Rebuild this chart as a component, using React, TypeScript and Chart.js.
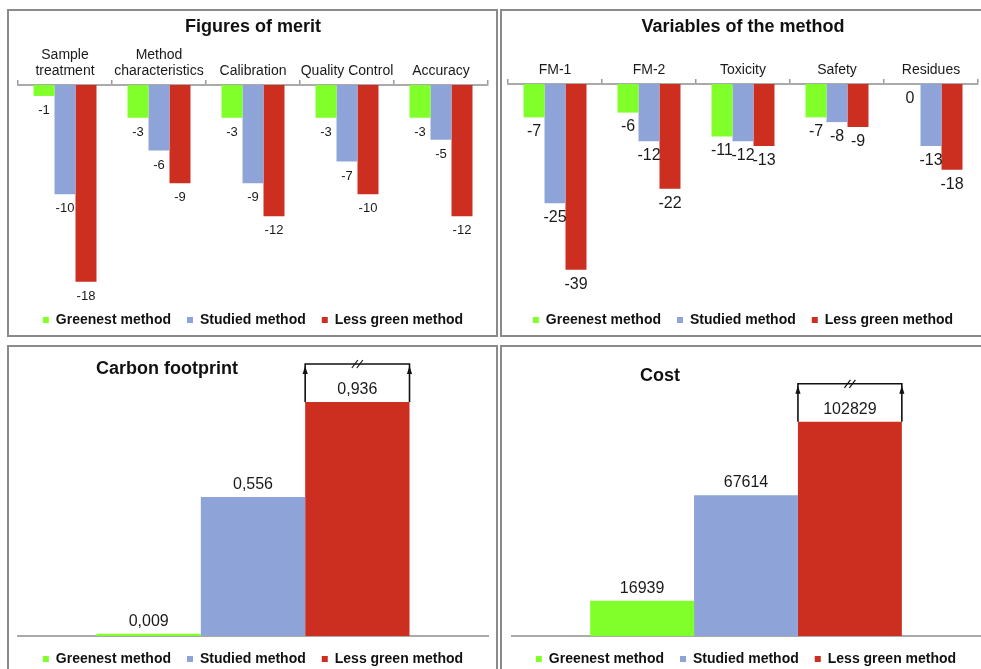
import React, { useEffect, useRef } from 'react';
import { Chart, registerables } from 'chart.js';

Chart.register(...registerables);

const FONT = "'Liberation Sans', Arial, sans-serif";

const seriesNames = ['Greenest method', 'Studied method', 'Less green method'];
const seriesColors = ['#80FF2A', '#8EA4D9', '#CC2E1F'];

const meritCategories: (string | string[])[] = [['Sample', 'treatment'], ['Method', 'characteristics'], 'Calibration', 'Quality Control', 'Accuracy'];
const meritGreenest = [-1, -3, -3, -3, -3];
const meritStudied = [-10, -6, -9, -7, -5];
const meritLessGreen = [-18, -9, -12, -10, -12];

const variableCategories = ['FM-1', 'FM-2', 'Toxicity', 'Safety', 'Residues'];
const variableGreenest = [-7, -6, -11, -7, 0];
const variableStudied = [-25, -12, -12, -8, -13];
const variableLessGreen = [-39, -22, -13, -9, -18];

const carbonValues = [0.009, 0.556, 0.936];
const costValues = [16939, 67614, 102829];

function makeValueLabels(size: number, offset: number, where: 'below' | 'above', comma: boolean) {
  return {
    id: 'valueLabels',
    afterDatasetsDraw(chart: any) {
      const ctx = chart.ctx;
      ctx.save();
      ctx.font = `${size}px ${FONT}`;
      ctx.fillStyle = '#1a1a1a';
      ctx.textAlign = 'center';
      ctx.textBaseline = 'middle';
      chart.data.datasets.forEach((ds: any, di: number) => {
        const meta = chart.getDatasetMeta(di);
        meta.data.forEach((el: any, i: number) => {
          const v = ds.data[i];
          let txt = String(v);
          if (comma) txt = txt.replace('.', ',');
          const y = where === 'below' ? el.y + offset : el.y - offset;
          ctx.fillText(txt, el.x, y);
        });
      });
      ctx.restore();
    },
  };
}

function makeBreakBracket(datasetIndex: number, height: number) {
  return {
    id: 'breakBracket',
    afterDatasetsDraw(chart: any) {
      const el = chart.getDatasetMeta(datasetIndex).data[0];
      if (!el) return;
      const ctx = chart.ctx;
      const l = el.x - el.width / 2;
      const r = el.x + el.width / 2;
      const b = el.y;
      const t = b - height;
      ctx.save();
      ctx.strokeStyle = '#111';
      ctx.fillStyle = '#111';
      ctx.lineWidth = 1.6;
      ctx.beginPath();
      ctx.moveTo(l, b);
      ctx.lineTo(l, t);
      ctx.lineTo(r, t);
      ctx.lineTo(r, b);
      ctx.stroke();
      [l, r].forEach((ax) => {
        ctx.beginPath();
        ctx.moveTo(ax, t + 2);
        ctx.lineTo(ax - 2.6, t + 10);
        ctx.lineTo(ax + 2.6, t + 10);
        ctx.closePath();
        ctx.fill();
      });
      const cx = (l + r) / 2;
      ctx.lineWidth = 1.2;
      [-2.5, 2.5].forEach((dx) => {
        ctx.beginPath();
        ctx.moveTo(cx + dx - 3, t + 4);
        ctx.lineTo(cx + dx + 3, t - 4);
        ctx.stroke();
      });
      ctx.restore();
    },
  };
}

function makeCornerTitle(text: string, x: number, y: number) {
  return {
    id: 'cornerTitle',
    afterDraw(chart: any) {
      const ctx = chart.ctx;
      ctx.save();
      ctx.font = `bold 18px ${FONT}`;
      ctx.fillStyle = '#111';
      ctx.textAlign = 'center';
      ctx.textBaseline = 'middle';
      ctx.fillText(text, x, y);
      ctx.restore();
    },
  };
}

const legendOptions = {
  position: 'bottom' as const,
  labels: {
    boxWidth: 6,
    boxHeight: 6,
    padding: 16,
    color: '#111',
    font: { size: 14, weight: 'bold' as const, family: FONT },
  },
};

function buildDatasets(values: number[][], catPct: number) {
  return seriesNames.map((name, i) => ({
    label: name,
    data: values[i],
    backgroundColor: seriesColors[i],
    borderWidth: 0,
    categoryPercentage: catPct,
    barPercentage: 1,
  }));
}

function topConfig(labels: any[], values: number[][], title: string, titleBottom: number, min: number, padL: number, padR: number, labelSize: number) {
  return {
    type: 'bar' as const,
    data: { labels, datasets: buildDatasets(values, 0.67) },
    options: {
      responsive: false,
      animation: false as const,
      layout: { padding: { left: padL, right: padR, top: 0, bottom: 0 } },
      scales: {
        x: {
          position: 'top' as const,
          grid: { display: true, drawOnChartArea: false, drawTicks: true, tickLength: 5, color: '#9a9a9a', lineWidth: 1.5, offset: true },
          border: { display: true, color: '#aaaaaa', width: 2 },
          ticks: { font: { size: 14, lineHeight: 1.15, family: FONT }, color: '#1a1a1a', padding: 1, maxRotation: 0, minRotation: 0, autoSkip: false },
        },
        y: { display: false, min, max: 0 },
      },
      plugins: {
        title: { display: true, text: title, color: '#111', font: { size: 18, weight: 'bold' as const, family: FONT }, padding: { top: 4, bottom: titleBottom } },
        legend: legendOptions,
        tooltip: { enabled: false },
      },
    },
    plugins: [makeValueLabels(labelSize, 14.5, 'below', false)],
  };
}

function bottomConfig(values: number[], max: number, title: string, tx: number, ty: number, padL: number, padR: number) {
  return {
    type: 'bar' as const,
    data: { labels: [''], datasets: buildDatasets(values.map((v) => [v]), 0.666) },
    options: {
      responsive: false,
      animation: false as const,
      layout: { padding: { left: padL, right: padR, top: 13, bottom: 0 } },
      scales: {
        x: {
          grid: { display: false, drawTicks: false },
          border: { display: true, color: '#aaaaaa', width: 2 },
          ticks: { display: false },
        },
        y: { display: false, min: 0, max },
      },
      plugins: {
        title: { display: false },
        legend: legendOptions,
        tooltip: { enabled: false },
      },
    },
    plugins: [makeValueLabels(16, 12.5, 'above', true), makeBreakBracket(2, 38), makeCornerTitle(title, tx, ty)],
  };
}

function ChartCanvas({ left, top, width, height, config }: { left: number; top: number; width: number; height: number; config: () => any }) {
  const ref = useRef<HTMLCanvasElement>(null);
  useEffect(() => {
    const chart = new Chart(ref.current as HTMLCanvasElement, config());
    return () => chart.destroy();
  }, []);
  return (
    <canvas
      ref={ref}
      width={width}
      height={height}
      style={{ position: 'absolute', left, top, width, height }}
    />
  );
}

function Frame({ left, top, width, height }: { left: number; top: number; width: number; height: number }) {
  return (
    <div
      style={{
        position: 'absolute',
        left,
        top,
        width,
        height,
        boxSizing: 'border-box',
        border: '2px solid #8a8a8a',
        pointerEvents: 'none',
      }}
    />
  );
}

export default function App() {
  return (
    <div style={{ position: 'absolute', left: 0, top: 0, width: 981, height: 669, overflow: 'hidden', background: '#fff' }}>
      <ChartCanvas
        left={10}
        top={12}
        width={485}
        height={325}
        config={() => topConfig(meritCategories, [meritGreenest, meritStudied, meritLessGreen], 'Figures of merit', 8.2, -19.4, 8, 7, 13)}
      />
      <ChartCanvas
        left={503}
        top={12}
        width={485}
        height={325}
        config={() => topConfig(variableCategories, [variableGreenest, variableStudied, variableLessGreen], 'Variables of the method', 23.3, -44.7, 5, 10, 16)}
      />
      <ChartCanvas
        left={10}
        top={348}
        width={485}
        height={328}
        config={() => bottomConfig(carbonValues, 1.1, 'Carbon footprint', 157, 21, 8, 7)}
      />
      <ChartCanvas
        left={503}
        top={348}
        width={485}
        height={328}
        config={() => bottomConfig(costValues, 132000, 'Cost', 157, 28, 9, 8)}
      />
      <Frame left={7} top={9} width={491} height={328} />
      <Frame left={500} top={9} width={500} height={328} />
      <Frame left={7} top={345} width={491} height={340} />
      <Frame left={500} top={345} width={500} height={340} />
    </div>
  );
}
